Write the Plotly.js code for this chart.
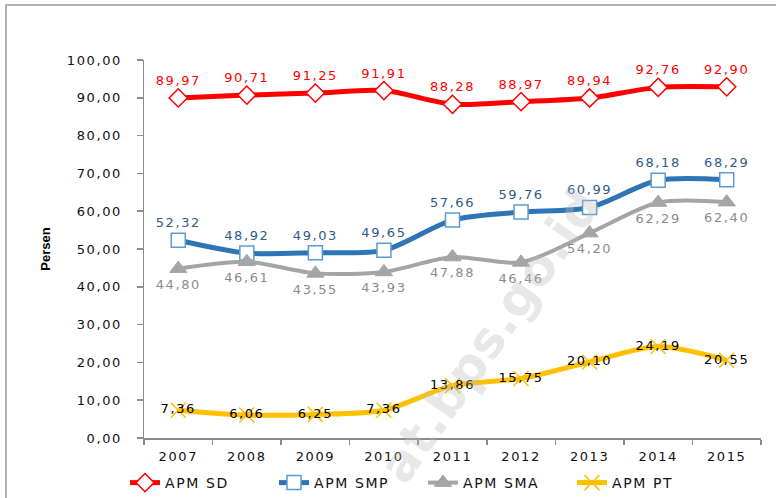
<!DOCTYPE html>
<html>
<head>
<meta charset="utf-8">
<script src="https://cdn.plot.ly/plotly-3.0.1.min.js"></script>
<style>
  html, body { margin: 0; padding: 0; background: #fff; }
  #chart { width: 776px; height: 498px; }
  text { letter-spacing: 1.6px; }
  text.ytitle { letter-spacing: 0; }
  .annotation-text { letter-spacing: 0.5px; }
</style>
</head>
<body>
<div id="chart"></div>
<script>
// ---- data ----
const years = ["2007", "2008", "2009", "2010", "2011", "2012", "2013", "2014", "2015"];
const apmSD  = [89.97, 90.71, 91.25, 91.91, 88.28, 88.97, 89.94, 92.76, 92.90];
const apmSMP = [52.32, 48.92, 49.03, 49.65, 57.66, 59.76, 60.99, 68.18, 68.29];
const apmSMA = [44.80, 46.61, 43.55, 43.93, 47.88, 46.46, 54.20, 62.29, 62.40];
const apmPT  = [7.36, 6.06, 6.25, 7.36, 13.86, 15.75, 20.10, 24.19, 20.55];
const seriesNames = ["APM SD", "APM SMP", "APM SMA", "APM PT"];
const yTitle = "Persen";
const watermark = "at.bps.go.id";

const fmt = v => v.toFixed(2).replace('.', ',');
const lblFont = (c) => ({ family: "DejaVu Sans, Verdana, sans-serif", size: 13, color: c });

const traces = [
  {
    x: years, y: apmSD, name: seriesNames[0], type: "scatter", mode: "lines+markers+text",
    line: { color: "#ff0000", width: 5, shape: "spline", smoothing: 0.8 },
    marker: { symbol: "diamond", size: 14, color: "#ffffff", line: { color: "#ff0000", width: 1.5 } },
    text: apmSD.map(fmt), textposition: "top center", textfont: lblFont("#ff0000"),
    cliponaxis: false
  },
  {
    x: years, y: apmSMP, name: seriesNames[1], type: "scatter", mode: "lines+markers+text",
    line: { color: "#2e75b6", width: 5, shape: "spline", smoothing: 0.8 },
    marker: { symbol: "square", size: 14, color: "#ffffff", line: { color: "#5b9bd5", width: 1.5 } },
    text: apmSMP.map(fmt), textposition: "top center", textfont: lblFont("#2f5b8a"),
    cliponaxis: false
  },
  {
    x: years, y: apmSMA, name: seriesNames[2], type: "scatter", mode: "lines+markers+text",
    line: { color: "#a5a5a5", width: 4, shape: "spline", smoothing: 0.8 },
    marker: { symbol: "triangle-up", size: 15, color: "#a5a5a5", line: { color: "#a5a5a5", width: 1 } },
    text: apmSMA.map(fmt), textposition: "bottom center", textfont: lblFont("#8c8c8c"),
    cliponaxis: false
  },
  {
    x: years, y: apmPT, name: seriesNames[3], type: "scatter", mode: "lines+markers+text",
    line: { color: "#ffc000", width: 5, shape: "spline", smoothing: 0.8 },
    marker: { symbol: "x-thin-open", size: 15, color: "#ffc000", line: { color: "#ffc000", width: 1.5 } },
    text: apmPT.map(fmt), textposition: "middle center", textfont: lblFont("#000000"),
    cliponaxis: false
  }
];

const tickFont = { family: "DejaVu Sans, Verdana, sans-serif", size: 13, color: "#111111" };

const layout = {
  width: 776, height: 498,
  margin: { l: 144, r: 15, t: 60, b: 60 },
  paper_bgcolor: "#ffffff", plot_bgcolor: "#ffffff",
  separators: ",.",
  showlegend: true,
  legend: {
    orientation: "h", xref: "container", yref: "container",
    x: 125 / 776, xanchor: "left", y: 1 - 483 / 498, yanchor: "middle",
    font: { family: "DejaVu Sans, Verdana, sans-serif", size: 14, color: "#111111" },
    entrywidth: 104, entrywidthmode: "pixels",
    itemwidth: 30, traceorder: "normal", bgcolor: "rgba(0,0,0,0)"
  },
  xaxis: {
    type: "category", range: [-0.5, 8.5],
    showgrid: false, zeroline: false,
    showline: true, linecolor: "#8c8c8c", linewidth: 1.5,
    ticks: "outside", ticklen: 5, tickcolor: "#8c8c8c", tickwidth: 1.5,
    tickson: "boundaries", tickfont: tickFont, ticklabelstandoff: 6
  },
  yaxis: {
    range: [0, 100], dtick: 10, tick0: 0, tickformat: ".2f",
    showgrid: false, zeroline: false,
    showline: true, linecolor: "#8c8c8c", linewidth: 1.5,
    ticks: "outside", ticklen: 6, tickcolor: "#8c8c8c", tickwidth: 1.5,
    tickfont: tickFont, ticklabelstandoff: 12,
    title: { text: yTitle, font: { family: "Liberation Sans Narrow, Arial Narrow, Liberation Sans, sans-serif", size: 13, color: "#000", weight: "bold" }, standoff: 13 }
  },
  shapes: [
    { type: "rect", xref: "paper", yref: "paper", x0: -0.2237, x1: 1.04, y0: -0.18, y1: 1.1455,
      line: { color: "#9a9a9a", width: 1.5 }, fillcolor: "rgba(0,0,0,0)", layer: "below" }
  ],
  annotations: [
    { text: "<b>" + watermark + "</b>", xref: "paper", yref: "paper",
      x: (490 - 144) / 617, y: (438 - 336) / 378, xanchor: "center", yanchor: "middle",
      textangle: -55, showarrow: false,
      font: { family: "DejaVu Sans, Verdana, sans-serif", size: 50, color: "rgba(190,190,190,0.35)" } }
  ]
};

Plotly.newPlot("chart", traces, layout, { displayModeBar: false, staticPlot: true });
</script>
</body>
</html>
